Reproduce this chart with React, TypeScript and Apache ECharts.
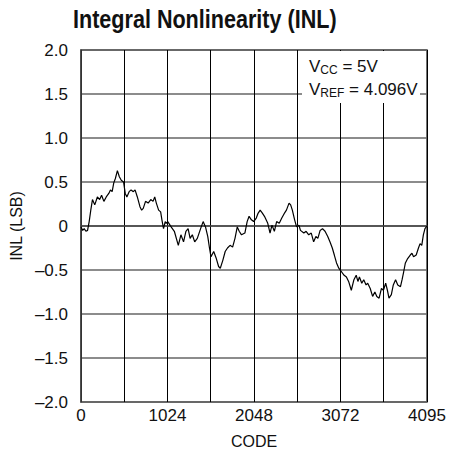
import React, { useEffect, useRef } from "react";
import * as echarts from "echarts";

const codes = [
  0, 20, 38, 58, 78, 97, 116, 136, 163, 194, 221, 244, 271, 299, 329, 349, 369, 388, 407, 431,
  454, 477, 504, 524, 543, 570, 593, 620, 640, 667, 698, 718, 737, 764, 795, 826, 853, 873, 892, 919,
  943, 958, 977, 997, 1009, 1027, 1067, 1105, 1152, 1183, 1214, 1242, 1268, 1292, 1318, 1346, 1377, 1416, 1446, 1474,
  1501, 1521, 1539, 1571, 1602, 1629, 1649, 1679, 1707, 1734, 1765, 1795, 1823, 1850, 1873, 1900, 1940, 1967, 1990, 2017,
  2044, 2075, 2094, 2121, 2145, 2172, 2211, 2238, 2261, 2289, 2316, 2347, 2377, 2405, 2432, 2463, 2482, 2502, 2529, 2552,
  2580, 2598, 2638, 2665, 2696, 2726, 2754, 2781, 2804, 2831, 2859, 2889, 2921, 2947, 2975, 2999, 3025, 3052, 3084, 3115,
  3142, 3168, 3200, 3231, 3258, 3278, 3296, 3324, 3347, 3375, 3394, 3424, 3452, 3479, 3502, 3529, 3557, 3580, 3607, 3627,
  3646, 3674, 3697, 3724, 3750, 3782, 3801, 3820, 3840, 3867, 3898, 3918, 3937, 3968, 3995, 4014, 4034, 4053, 4072, 4095,
];

const inl = [
  -0.01, -0.05, -0.03, -0.06, -0.05, 0.05, 0.18, 0.3, 0.24, 0.33, 0.3, 0.35, 0.28, 0.33, 0.37, 0.41, 0.39, 0.49, 0.54, 0.63,
  0.56, 0.52, 0.5, 0.37, 0.33, 0.39, 0.41, 0.39, 0.41, 0.33, 0.22, 0.18, 0.2, 0.28, 0.26, 0.3, 0.28, 0.33, 0.26, 0.18,
  0.16, 0.07, -0.03, 0.05, 0.03, 0.05, -0.01, -0.06, -0.22, -0.1, -0.18, -0.06, -0.03, -0.14, -0.1, -0.18, -0.14, -0.03, 0.05, -0.01,
  -0.12, -0.25, -0.35, -0.29, -0.37, -0.46, -0.48, -0.39, -0.29, -0.25, -0.22, -0.24, -0.14, -0.01, -0.06, -0.1, -0.08, 0.05, 0.11, 0.07,
  0.05, 0.09, 0.14, 0.18, 0.15, 0.11, 0.03, -0.08, 0.01, -0.06, 0.05, 0.03, 0.09, 0.14, 0.18, 0.26, 0.24, 0.18, 0.07, -0.01,
  0.01, -0.05, -0.08, -0.06, -0.1, -0.08, -0.18, -0.12, -0.14, -0.05, -0.03, -0.06, -0.12, -0.18, -0.25, -0.33, -0.42, -0.48, -0.52, -0.56,
  -0.58, -0.63, -0.73, -0.61, -0.56, -0.63, -0.58, -0.65, -0.61, -0.67, -0.65, -0.71, -0.8, -0.75, -0.8, -0.82, -0.71, -0.73, -0.65, -0.73,
  -0.82, -0.78, -0.67, -0.61, -0.67, -0.69, -0.61, -0.52, -0.42, -0.37, -0.33, -0.31, -0.35, -0.33, -0.25, -0.2, -0.22, -0.1, -0.03, 0.0,
];

const xLabelCodes = [0, 1024, 2048, 3072, 4096];
const xLabelTexts = ["0", "1024", "2048", "3072", "4095"];

const FONT = "'Liberation Sans', Arial, sans-serif";

export default function App() {
  const ref = useRef<HTMLDivElement>(null);
  useEffect(() => {
    if (!ref.current) return;
    const chart = echarts.init(ref.current, undefined, { renderer: "svg" });
    const data = codes.map((c, i) => [c, inl[i]]);
    const sub = { fontFamily: FONT, fontSize: 12, fill: "#111", verticalAlign: "bottom", padding: [7, 0, 0, 0] };
    chart.setOption({
      animation: false,
      backgroundColor: "#fff",
      grid: {
        left: 75,
        top: 50,
        width: 352,
        height: 352,
        show: true,
        borderColor: "#444",
        borderWidth: 1.5,
      },
      xAxis: {
        type: "value",
        min: 0,
        max: 4096,
        interval: 512,
        name: "CODE",
        nameLocation: "middle",
        nameGap: 31,
        nameTextStyle: { fontFamily: FONT, fontSize: 16, color: "#111" },
        axisLine: { show: true, lineStyle: { color: "#444", width: 1.5 } },
        axisTick: { show: false },
        splitLine: { show: true, lineStyle: { color: "#000", width: 1 } },
        axisLabel: {
          fontFamily: FONT,
          fontSize: 17,
          color: "#111",
          margin: 5,
          showMinLabel: true,
          showMaxLabel: true,
          formatter: (v: number) => {
            const i = xLabelCodes.indexOf(v);
            return i >= 0 ? xLabelTexts[i] : "";
          },
        },
      },
      yAxis: {
        type: "value",
        min: -2,
        max: 2,
        interval: 0.5,
        name: "INL (LSB)",
        nameLocation: "middle",
        nameGap: 50,
        nameTextStyle: { fontFamily: FONT, fontSize: 16, color: "#111" },
        axisLine: { show: true, lineStyle: { color: "#444", width: 1.5 } },
        axisTick: { show: false },
        splitLine: { show: true, lineStyle: { color: "#666", width: 1.5 } },
        axisLabel: {
          fontFamily: FONT,
          fontSize: 17,
          color: "#111",
          margin: 13,
          formatter: (v: number) => (v === 0 ? "0" : v.toFixed(1).replace("-", "\u2013")),
        },
      },
      graphic: [
        {
          type: "text",
          z: 101,
          x: 73,
          y: 6,
          scaleX: 0.83,
          style: {
            text: "Integral Nonlinearity (INL)",
            fontFamily: FONT,
            fontSize: 26,
            fontWeight: "bold",
            fill: "#111",
          },
        },
        {
          type: "rect",
          z: 100,
          shape: { x: 302, y: 51, width: 118, height: 52 },
          style: { fill: "#fff" },
        },
        {
          type: "text",
          z: 101,
          x: 309,
          y: 57,
          style: {
            text: "V{s|CC} = 5V",
            fontFamily: FONT,
            fontSize: 17,
            fill: "#111",
            rich: { s: sub },
          },
        },
        {
          type: "text",
          z: 101,
          x: 309,
          y: 80,
          style: {
            text: "V{s|REF} = 4.096V",
            fontFamily: FONT,
            fontSize: 17,
            fill: "#111",
            rich: { s: sub },
          },
        },
      ],
      series: [
        {
          type: "line",
          data,
          showSymbol: false,
          symbol: "none",
          lineStyle: { color: "#000", width: 1.2 },
          z: 5,
        },
      ],
    });
    return () => chart.dispose();
  }, []);
  return (
    <div
      ref={ref}
      style={{ position: "fixed", left: 0, top: 0, width: 451, height: 454 }}
    />
  );
}
